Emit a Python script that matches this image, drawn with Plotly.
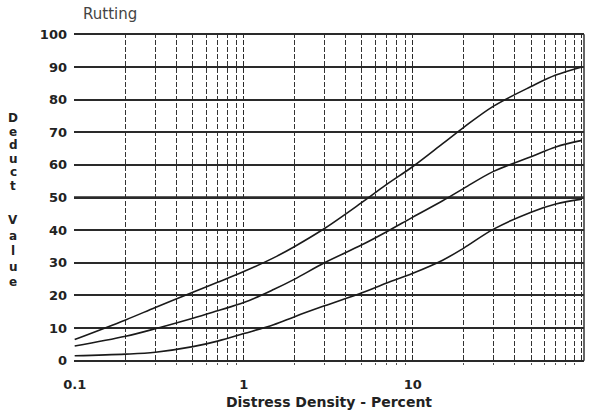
import plotly.graph_objects as go

# Distress density (%) and deduct values
x_high = [0.1, 0.2, 0.3, 0.5, 0.7, 1.0, 1.5, 2, 3, 5, 7, 10, 15, 20, 30, 50, 70, 100]
y_high = [6.5, 12.5, 16.3, 21, 24, 27.3, 31.5, 35, 40.5, 48.5, 54, 59.5, 66.5, 71.5, 78, 84, 87.5, 90]

x_med = [0.1, 0.2, 0.3, 0.5, 0.7, 1.0, 1.5, 2, 3, 5, 7, 10, 15, 20, 30, 50, 70, 100]
y_med = [4.5, 7.5, 9.8, 13, 15.3, 17.8, 21.8, 25, 30, 35.5, 39.5, 44, 49, 52.8, 58, 62.5, 65.5, 67.5]

x_low = [0.1, 0.2, 0.3, 0.5, 0.7, 1.0, 1.5, 2, 3, 5, 7, 10, 15, 20, 30, 50, 70, 100]
y_low = [1.5, 2.0, 2.6, 4.3, 6.0, 8.3, 11, 13.5, 16.8, 20.8, 23.8, 26.8, 30.8, 34.5, 40.3, 45.5, 48, 49.5]

x_ticks = [0.1, 1, 10, 100]
x_tick_text = ["0.1", "1", "10", "100"]
y_ticks = list(range(0, 101, 10))

title_text = "Rutting"
x_title = "Distress Density - Percent"
y_title_words = ["Deduct", "Value"]

fig = go.Figure()
for xs, ys in [(x_high, y_high), (x_med, y_med), (x_low, y_low)]:
    fig.add_trace(go.Scatter(x=xs, y=ys, mode="lines",
                             line=dict(color="#1a1a1a", width=1.6, shape="spline", smoothing=1.0),
                             showlegend=False, hoverinfo="skip"))

minor_vals = [m * 10 ** e for e in (-1, 0, 1) for m in range(2, 10)]

fig.update_xaxes(type="log", range=[-1.004, 2.012],
                 tickmode="array", tickvals=x_ticks,
                 ticktext=["<b>%s</b>" % t for t in x_tick_text],
                 showgrid=True, gridcolor="#2a2a2a", gridwidth=1.3, griddash="5px,2px",
                 minor=dict(tickmode="array", tickvals=minor_vals, showgrid=True,
                            gridcolor="#333333", gridwidth=1.2, griddash="5px,2px",
                            ticks="outside", ticklen=2, tickcolor="#555"),
                 ticks="", zeroline=False, showline=False, ticklabelstandoff=13,
                 tickfont=dict(family="DejaVu Sans", size=13, color="#222"),
                 title=dict(text="<b>" + x_title + "</b>", standoff=6,
                            font=dict(family="DejaVu Sans", size=14, color="#222")))
fig.update_yaxes(range=[-0.4, 100.4], tickmode="array", tickvals=y_ticks,
                 ticktext=["<b>%d</b>" % v for v in y_ticks],
                 showgrid=True, gridcolor="#2a2a2a", gridwidth=1.5,
                 zeroline=False, showline=False, ticks="", ticklabelstandoff=6,
                 tickfont=dict(family="DejaVu Sans", size=13, color="#222"))

# thicker 50 line as in the scanned original
fig.add_shape(type="line", xref="paper", x0=0, x1=1, yref="y", y0=50, y1=50,
              line=dict(color="#2a2a2a", width=2.6), layer="below")
# right border
fig.add_shape(type="line", xref="paper", x0=1, x1=1, yref="y", y0=0, y1=100,
              line=dict(color="#333", width=1.5))

# vertical stacked y-axis title
plot_top, plot_bot = 33, 362
def py(pix):
    return (plot_bot - pix) / (plot_bot - plot_top)

ann = []
start_pix = {"Deduct": 118, "Value": 220}
step = {"Deduct": 13.5, "Value": 15.5}
for w in y_title_words:
    for i, ch in enumerate(w):
        ann.append(dict(text="<b>" + ch + "</b>", xref="paper", yref="paper",
                        x=(13 - 74) / 510, y=py(start_pix[w] + i * step[w]),
                        showarrow=False, xanchor="center", yanchor="middle",
                        font=dict(family="DejaVu Sans", size=12, color="#222")))
ann.append(dict(text=title_text, xref="paper", yref="paper",
                x=(81 - 74) / 510, y=py(14), xanchor="left", yanchor="middle",
                showarrow=False, font=dict(family="DejaVu Sans", size=15, color="#444")))

fig.update_layout(width=592, height=416, margin=dict(l=74, r=8, t=33, b=54),
                  paper_bgcolor="white", plot_bgcolor="white", annotations=ann)

fig.write_html("out.html")
